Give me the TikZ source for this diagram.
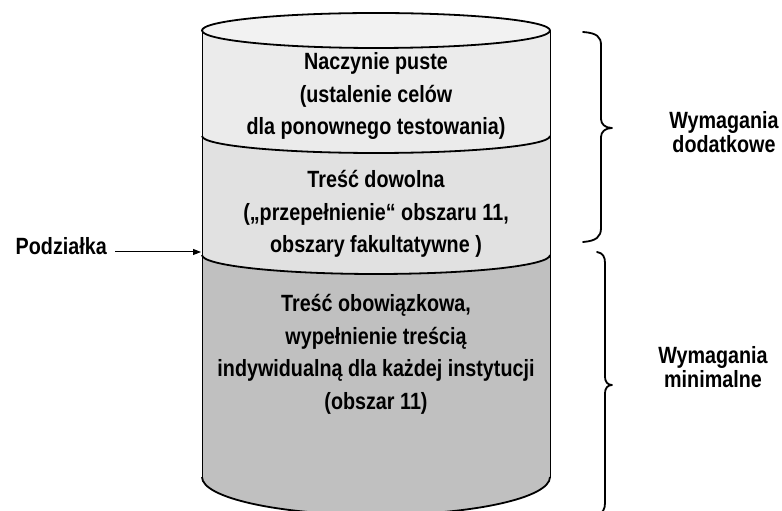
\documentclass[tikz,border=0pt]{standalone}
\usepackage{fontspec}
\setmainfont{Liberation Sans}[FakeStretch=0.84]
\usetikzlibrary{arrows.meta}
\definecolor{ellfill}{HTML}{F2F2F2}
\definecolor{topfill}{HTML}{EBEBEB}
\definecolor{midfill}{HTML}{E1E1E1}
\definecolor{botfill}{HTML}{C0C0C0}
\tikzset{
  rim/.style={line width=1.8pt, line join=round},
  side/.style={line width=0.9pt},
  brace/.style={line width=1.8pt, line cap=round, line join=round},
  cyltext/.style={font=\bfseries\fontsize{23.5}{32.5}\selectfont, align=center, inner sep=0pt},
  sidelabel/.style={font=\bfseries\fontsize{23.5}{24.5}\selectfont, align=center, inner sep=0pt},
  arrowline/.style={line width=1pt, -{Triangle[length=8pt,width=6pt]}}
}
\begin{document}
\begin{tikzpicture}[x=1pt,y=1pt]
\clip (0,0) rectangle (782,511);
\fill[white] (0,0) rectangle (782,511);
% bottom section
\fill[botfill] (202,256) -- (202,34)
  arc[start angle=180,end angle=360,x radius=174pt,y radius=38pt]
  -- (550,256)
  arc[start angle=0,end angle=-180,x radius=174pt,y radius=19pt] -- cycle;
% middle section
\fill[midfill] (202,375) -- (202,256)
  arc[start angle=180,end angle=360,x radius=174pt,y radius=19pt]
  -- (550,375)
  arc[start angle=0,end angle=-180,x radius=174pt,y radius=17pt] -- cycle;
% top section
\fill[topfill] (202,480.5) -- (202,375)
  arc[start angle=180,end angle=360,x radius=174pt,y radius=17pt]
  -- (550,480.5) -- cycle;
% sides
\draw[side] (202,480.5) -- (202,34);
\draw[side] (550,480.5) -- (550,34);
% rims
\draw[rim] (202,375) arc[start angle=180,end angle=360,x radius=174pt,y radius=17pt];
\draw[rim] (202,256) arc[start angle=180,end angle=360,x radius=174pt,y radius=19pt];
\draw[rim] (202,34) arc[start angle=180,end angle=360,x radius=174pt,y radius=38pt];
\draw[rim, fill=ellfill] (376,480.5) ellipse[x radius=174pt,y radius=17.5pt];
% texts in the cylinder
\node[cyltext] (top) at (376,415) {Naczynie puste\\(ustalenie celów\\dla ponownego testowania)};
\node[cyltext] (mid) at (376,297) {Treść dowolna\\(„przepełnienie“ obszaru 11,\\obszary fakultatywne )};
\node[cyltext] (bot) at (376,156.5) {Treść obowiązkowa,\\wypełnienie treścią\\indywidualną dla każdej instytucji\\(obszar 11)};
% scale mark
\node[font=\bfseries\fontsize{23.5}{24.5}\selectfont, inner sep=0pt, anchor=base east] (pod) at (107,256) {Podziałka};
\coordinate (tick) at (201,259);
\draw[arrowline, shorten <=8pt] (pod.east |- tick) -- (tick);
% braces
\draw[brace] (583,479) .. controls (597,478) and (601,474) .. (601,466)
  -- (601,392) .. controls (601,387) and (605,383) .. (612,383)
  .. controls (605,383) and (601,379) .. (601,374)
  -- (601,283) .. controls (601,274) and (596,270) .. (583,269);
\draw[brace] (597,259) .. controls (603,258) and (605,254) .. (605,248)
  -- (605,134) .. controls (605,129) and (608,126) .. (612,126)
  .. controls (608,126) and (605,123) .. (605,118)
  -- (605,8) .. controls (605,2) and (603,-2) .. (597,-4);
\node[sidelabel] (extra) at (724,379) {Wymagania\\dodatkowe};
\node[sidelabel] (minimum) at (713,144) {Wymagania\\minimalne};
\end{tikzpicture}
\end{document}
